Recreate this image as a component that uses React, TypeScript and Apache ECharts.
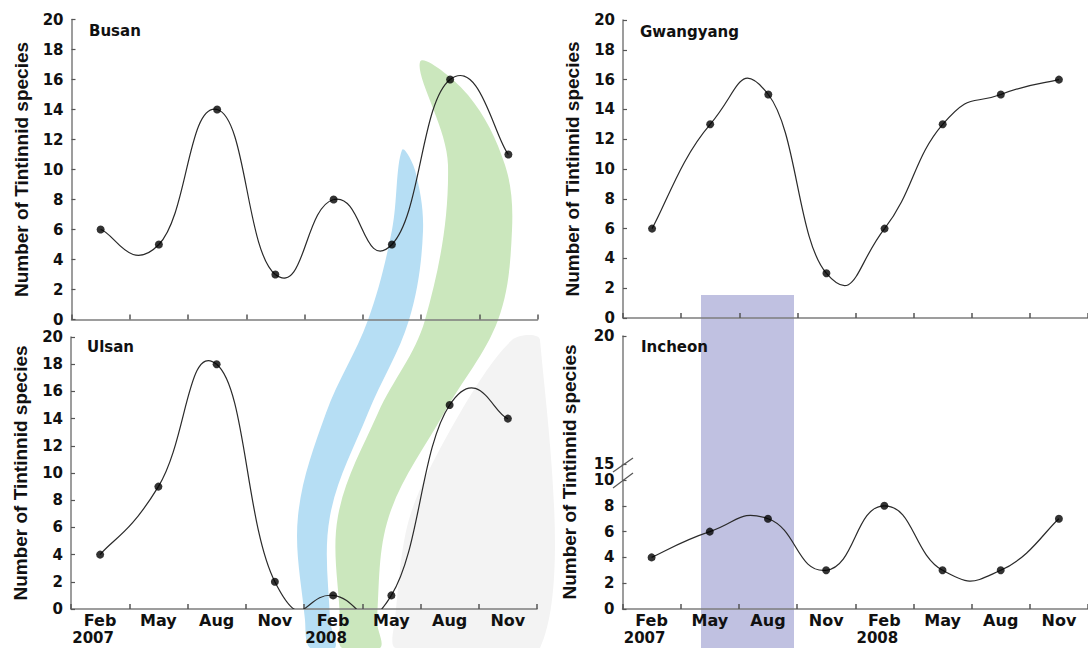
import React, { useEffect, useRef } from 'react';
import * as echarts from 'echarts';

// ---- data ----
const months = ['Feb\n2007', 'May', 'Aug', 'Nov', 'Feb\n2008', 'May', 'Aug', 'Nov'];
const busan = [6, 5, 14, 3, 8, 5, 16, 11];
const gwangyang = [6, 13, 15, 3, 6, 13, 15, 16];
const ulsan = [4, 9, 18, 2, 1, 1, 15, 14];
const incheon = [4, 6, 7, 3, 8, 3, 3, 7];
const panelNames = ['Busan', 'Gwangyang', 'Ulsan', 'Incheon'];
const yTitle = 'Number of Tintinnid species';

const AXIS = '#7d7d7d';
const TXT = '#111';
const LBL_FONT = 'DejaVu Sans';
const K = 0.25; // spline tension (Excel-like smoothing)

function curveRenderer(values: number[]) {
  return (params: any, api: any) => {
    const n = values.length;
    const i = params.dataIndex;
    if (i >= n - 1) return null;
    const p = (j: number) => {
      const c = Math.max(0, Math.min(n - 1, j));
      return api.coord([c, values[c]]);
    };
    const p0 = p(i - 1), p1 = p(i), p2 = p(i + 1), p3 = p(i + 2);
    return {
      type: 'bezierCurve',
      shape: {
        x1: p1[0], y1: p1[1], x2: p2[0], y2: p2[1],
        cpx1: p1[0] + K * (p2[0] - p0[0]),
        cpy1: p1[1] + K * (p2[1] - p0[1]),
        cpx2: p2[0] - K * (p3[0] - p1[0]),
        cpy2: p2[1] - K * (p3[1] - p1[1]),
      },
      style: { stroke: '#2a2a2a', lineWidth: 1.2, fill: 'none' },
    };
  };
}

function xAxisCfg(gridIndex: number, showLabels: boolean, show = true) {
  return {
    type: 'category', gridIndex, data: months, boundaryGap: true, show,
    axisLine: { show: true, lineStyle: { color: AXIS, width: 1.5 } },
    axisTick: { show: true, inside: true, length: 5, lineStyle: { color: '#555', width: 1.5 } },
    splitLine: { show: false },
    axisLabel: {
      show: showLabels, margin: 3, color: TXT, interval: 0,
      formatter: (v: string) => {
        const parts = v.split('\n');
        return parts.length > 1 ? `{m|${parts[0]}}\n{y|${parts[1]}}` : `{m|${v}}`;
      },
      rich: {
        m: { fontFamily: LBL_FONT, fontWeight: 'bold', fontSize: 16, color: TXT, lineHeight: 17 },
        y: { fontFamily: LBL_FONT, fontWeight: 'bold', fontSize: 15, color: TXT, lineHeight: 17, padding: [0, 14, 0, 0] },
      },
    },
  };
}

function yAxisCfg(gridIndex: number, min: number, max: number, interval: number, withName: boolean) {
  return {
    type: 'value', gridIndex, min, max, interval,
    axisLine: { show: true, lineStyle: { color: AXIS, width: 1.5 } },
    axisTick: { show: true, inside: true, length: 4, lineStyle: { color: '#555', width: 1.2 } },
    splitLine: { show: false },
    axisLabel: { fontFamily: LBL_FONT, fontWeight: 'bold', fontSize: 15, color: TXT, margin: 8 },
    name: withName ? yTitle : '',
    nameLocation: 'middle',
    nameGap: 41,
    nameTextStyle: { fontFamily: 'Liberation Sans', fontWeight: 'bold', fontSize: 19, color: TXT },
  };
}

function panelSeries(idx: number, values: number[]) {
  return [
    {
      type: 'custom', xAxisIndex: idx, yAxisIndex: idx, clip: true, z: 3,
      data: values.map((v, i) => [i, v]),
      encode: { x: 0, y: 1 },
      renderItem: curveRenderer(values),
      silent: true,
    },
    {
      type: 'scatter', xAxisIndex: idx, yAxisIndex: idx, z: 4,
      data: values.map((v, i) => [i, v]),
      symbol: 'circle', symbolSize: 8,
      itemStyle: { color: '#000' },
    },
  ];
}

const titleStyle = { fontFamily: LBL_FONT, fontWeight: 'bold', fontSize: 15, color: TXT };

function watermark(): any[] {
  const out: any[] = [];
  // light gray swoosh
  out.push({
    type: 'polygon', z: -12, silent: true,
    shape: {
      smooth: 0.3,
      points: [[512, 340], [460, 413], [410, 516], [395, 620], [396, 648], [540, 648], [540, 340]],
    },
    style: { fill: '#f3f3f3' },
  });
  out.push({ type: 'rect', z: -10, silent: true, shape: { x: 701, y: 295, width: 93, height: 353 }, style: { fill: '#c0c1e1' } });
  out.push({
    type: 'polygon', z: -10, silent: true,
    shape: {
      smooth: 0.35,
      points: [[420, 62], [448, 165], [425, 320], [378, 413], [338, 516], [340, 620], [342, 648],
        [380, 648], [377, 620], [389, 516], [444, 413], [498, 320], [512, 230], [505, 165], [468, 95]],
    },
    style: { fill: '#cbe7bd' },
  });
  out.push({
    type: 'polygon', z: -9, silent: true,
    shape: {
      smooth: 0.35,
      points: [[402, 150], [392, 230], [368, 320], [326, 413], [298, 516], [305, 620], [310, 648],
        [335, 648], [330, 620], [330, 516], [368, 413], [409, 320], [423, 231], [415, 170]],
    },
    style: { fill: '#b6def4' },
  });
  return out;
}

export default function App() {
  const ref = useRef<HTMLDivElement>(null);
  useEffect(() => {
    if (!ref.current) return;
    const chart = echarts.init(ref.current, undefined, { renderer: 'svg' });
    const option: any = {
      animation: false,
      backgroundColor: '#ffffff',
      title: [
        { text: panelNames[0], left: 89, top: 23, padding: 0, textStyle: titleStyle },
        { text: panelNames[1], left: 640, top: 24, padding: 0, textStyle: titleStyle },
        { text: panelNames[2], left: 87, top: 339, padding: 0, textStyle: titleStyle },
        { text: panelNames[3], left: 641, top: 339, padding: 0, textStyle: titleStyle },
      ],
      grid: [
        { left: 71.5, top: 19.5, width: 466, height: 300 },
        { left: 623, top: 20, width: 466, height: 298 },
        { left: 71, top: 337, width: 466, height: 272 },
        { left: 622.5, top: 480, width: 466, height: 129 },
        { left: 622.5, top: 336, width: 466, height: 128 },
      ],
      xAxis: [
        xAxisCfg(0, false),
        xAxisCfg(1, false),
        xAxisCfg(2, true),
        xAxisCfg(3, true),
        xAxisCfg(4, false, false),
      ],
      yAxis: [
        yAxisCfg(0, 0, 20, 2, true),
        yAxisCfg(1, 0, 20, 2, true),
        yAxisCfg(2, 0, 20, 2, true),
        yAxisCfg(3, 0, 10, 2, false),
        yAxisCfg(4, 15, 20, 5, false),
      ],
      series: [
        ...panelSeries(0, busan),
        ...panelSeries(1, gwangyang),
        ...panelSeries(2, ulsan),
        ...panelSeries(3, incheon),
      ],
      graphic: [
        ...watermark(),
        // Incheon y-axis title and axis break
        {
          type: 'text', x: 569, y: 472, rotation: Math.PI / 2, z: 10,
          style: { text: yTitle, align: 'center', verticalAlign: 'middle', font: 'bold 19px "Liberation Sans"', fill: TXT },
        },
        { type: 'line', z: 10, shape: { x1: 622.5, y1: 464, x2: 622.5, y2: 480 }, style: { stroke: AXIS, lineWidth: 1.5 } },
        { type: 'line', z: 10, shape: { x1: 613, y1: 472, x2: 633, y2: 458 }, style: { stroke: '#555', lineWidth: 1.2 } },
        { type: 'line', z: 10, shape: { x1: 613, y1: 488, x2: 633, y2: 473 }, style: { stroke: '#555', lineWidth: 1.2 } },
      ],
    };
    chart.setOption(option);
    return () => chart.dispose();
  }, []);
  return <div ref={ref} style={{ position: 'fixed', left: 0, top: 0, width: 1088, height: 648 }} />;
}
